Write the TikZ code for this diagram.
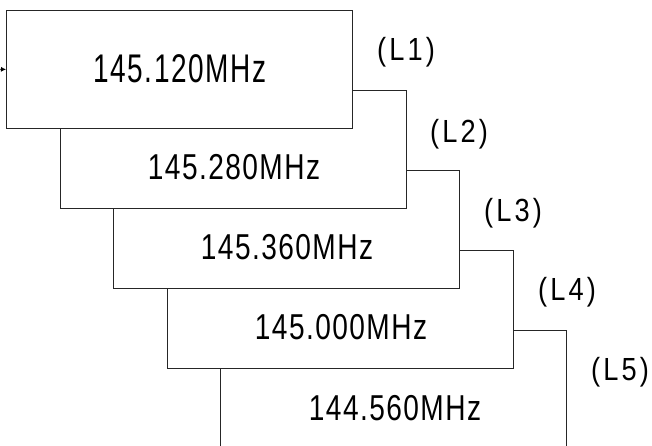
\documentclass[tikz,border=0pt]{standalone}
\usepackage{fontspec}
\setmainfont{Liberation Sans}
\newfontfamily\freqfont{Liberation Sans}[FakeStretch=0.78,LetterSpace=4]
\newfontfamily\freqtopfont{Liberation Sans}[FakeStretch=0.7,LetterSpace=4]
\newfontfamily\lblfont{Liberation Sans}[FakeStretch=0.85,LetterSpace=10]
\usetikzlibrary{arrows.meta}
\tikzset{
  chbox/.style={draw=black!85, line width=0.8pt, fill=white, anchor=north west, inner sep=0pt, minimum width=346pt, minimum height=118pt},
  freq/.style={font=\freqfont\fontsize{36}{36}\selectfont, inner sep=0pt},
  lbl/.style={font=\lblfont\fontsize{32}{32}\selectfont, inner sep=0pt},
  arrin/.style={-{Latex[length=5pt,width=5pt]}, line width=0.8pt},
}
\begin{document}
\begin{tikzpicture}[x=1pt,y=-1pt]
\useasboundingbox (0,0) rectangle (652,445);
% stacked boxes, back to front
\node[chbox] (b5) at (220,330) {};
\node[chbox] (b4) at (166.5,250) {};
\node[chbox] (b3) at (113,170) {};
\node[chbox] (b2) at (59.5,90) {};
\node[chbox] (b1) at (6,10) {};

\node[freq, font=\freqtopfont\fontsize{40}{40}\selectfont] (f1) at (180,69) {145.120MHz};
\node[freq] (f2) at (234,167) {145.280MHz};
\node[freq] (f3) at (287,247) {145.360MHz};
\node[freq] (f4) at (341,327) {145.000MHz};
\node[freq] (f5) at (395,408) {144.560MHz};

\node[lbl] (l1) at (406,52) {(L1)};
\node[lbl] (l2) at (459,134) {(L2)};
\node[lbl] (l3) at (513,213) {(L3)};
\node[lbl] (l4) at (567,292) {(L4)};
\node[lbl] (l5) at (620,372) {(L5)};

\coordinate (in) at (-20,69);
\draw[arrin] (in) -- (b1.west);
\end{tikzpicture}
\end{document}
